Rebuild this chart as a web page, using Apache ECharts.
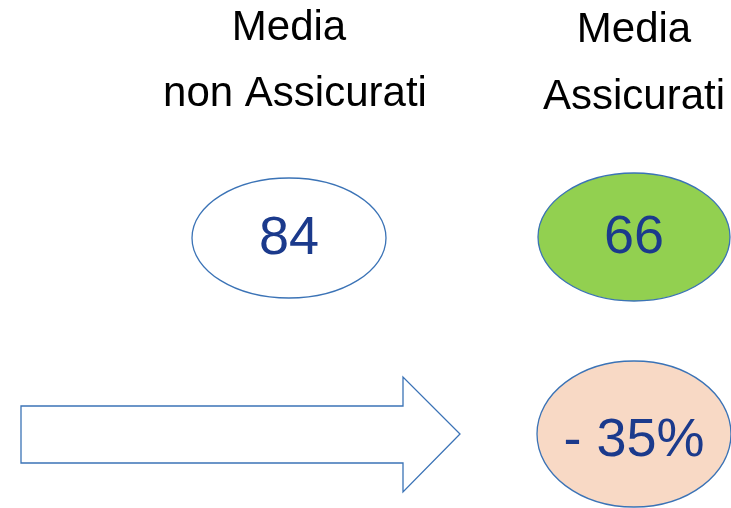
<!DOCTYPE html>
<html>
<head>
<meta charset="utf-8">
<script src="https://cdn.jsdelivr.net/npm/echarts@6/dist/echarts.min.js"></script>
<style>html,body{margin:0;padding:0;background:#fff}#c{width:731px;height:508px}</style>
</head>
<body>
<div id="c"></div>
<script>
var headers = [["Media", "non Assicurati"], ["Media", "Assicurati"]];
var values = ["84", "66"];
var diffLabel = "- 35%";
var fills = ["#ffffff", "#92d050"];
var diffFill = "#f8d9c5";

var textColor = "#1b3a8c";
var stroke = "#3b73b6";
var font = "'Liberation Sans', Arial, sans-serif";

var chart = echarts.init(document.getElementById('c'), null, {renderer: 'canvas'});
var cols = [{hx: 289, hx2: 295}, {hx: 634, hx2: 634}];
var ell = [{cx: 289, cy: 238, rx: 97, ry: 60}, {cx: 634, cy: 237, rx: 96, ry: 64}];
var g = [];
headers.forEach(function (h, i) {
  g.push({type: 'text', x: cols[i].hx, y: 28 + (i ? 2 : 0), style: {text: h[0], font: '42px ' + font, fill: '#000', align: 'center', verticalAlign: 'middle'}});
  g.push({type: 'text', x: cols[i].hx2, y: 94 + (i ? 3 : 0), style: {text: h[1], font: '42px ' + font, fill: '#000', align: 'center', verticalAlign: 'middle'}});
  g.push({type: 'ellipse', shape: ell[i], style: {fill: fills[i], stroke: stroke, lineWidth: 1.3}});
  g.push({type: 'text', x: ell[i].cx, y: ell[i].cy + 1, style: {text: values[i], font: '54px ' + font, fill: textColor, align: 'center', verticalAlign: 'middle'}});
});
g.push({type: 'ellipse', shape: {cx: 634, cy: 434, rx: 97, ry: 73}, style: {fill: diffFill, stroke: stroke, lineWidth: 1.3}});
g.push({type: 'text', x: 634, y: 441, style: {text: diffLabel, font: '54px ' + font, fill: textColor, align: 'center', verticalAlign: 'middle'}});
g.push({type: 'polygon', shape: {points: [[21, 406], [403, 406], [403, 377], [460, 434], [403, 492], [403, 463], [21, 463]]}, style: {fill: '#fff', stroke: stroke, lineWidth: 1.3}});
chart.setOption({animation: false, graphic: {elements: g}});
</script>
</body>
</html>
